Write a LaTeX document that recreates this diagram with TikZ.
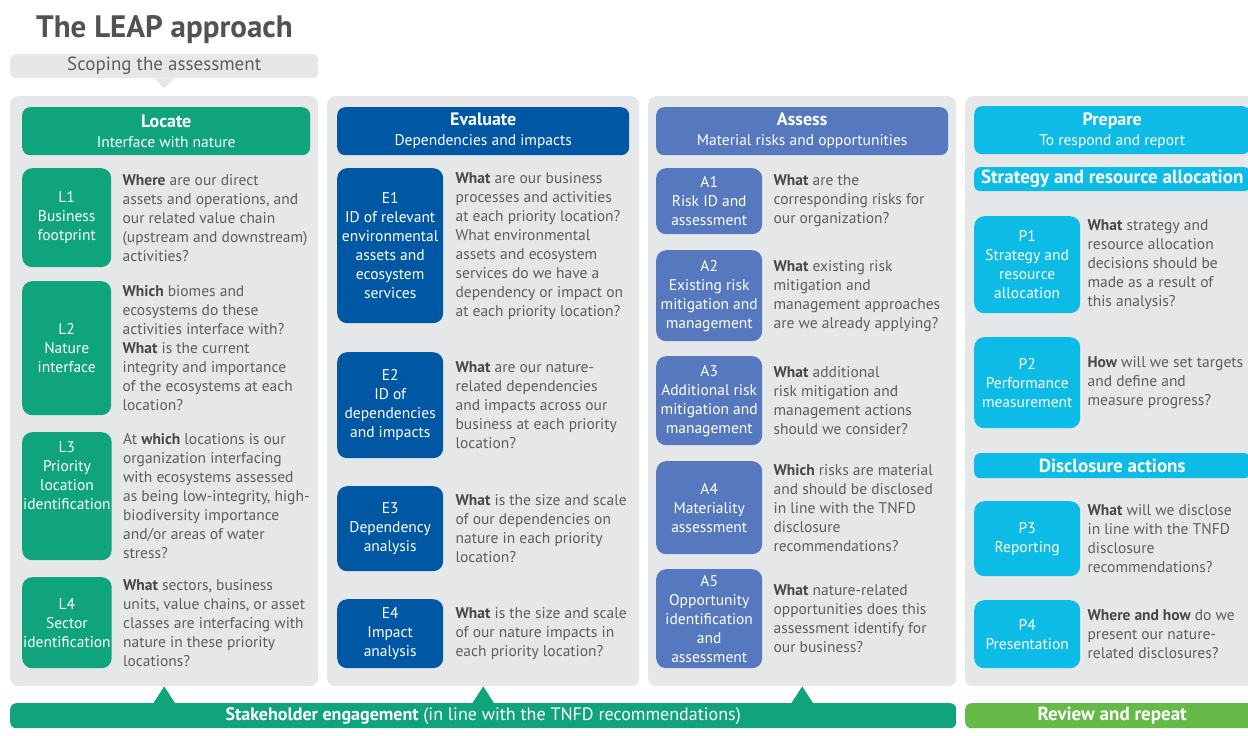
\documentclass[tikz,border=0pt]{standalone}
\usepackage{fontspec}
\setmainfont{PT Sans}
\usetikzlibrary{positioning}
\definecolor{panelgray}{RGB}{230,231,233}
\definecolor{textgray}{RGB}{92,93,96}
\definecolor{boldgray}{RGB}{72,72,74}
\definecolor{titlegray}{RGB}{82,82,84}
\definecolor{leapgreen}{RGB}{16,164,125}
\definecolor{leapblue}{RGB}{0,88,164}
\definecolor{leapslate}{RGB}{86,120,190}
\definecolor{leapcyan}{RGB}{13,188,230}
\definecolor{leaplime}{RGB}{101,186,72}
\newcommand{\kw}[1]{\textbf{\color{boldgray}#1}}
\newcommand{\leapitem}[7]{
    % #1: name
    % #2: box style
    % #3: x of left edge
    % #4: y of top edge
    % #5: y of bottom edge
    % #6: label
    % #7: question
    \node[#2, minimum height={(#5-#4)*1pt}] (#1) at (#3,#4) {#6};
    \node[question, right=of #1] (#1q) {#7};
}

\begin{document}
\begin{tikzpicture}[x=1pt, y=-1pt]
    % grey columns
    \tikzstyle{panel}=[fill=panelgray, rounded corners=8pt, anchor=north west, inner sep=0, minimum width=308pt, minimum height=590pt]
    % coloured headers
    \tikzstyle{head}=[rounded corners=8pt, anchor=north west, text=white, align=center, inner sep=0, minimum height=48pt, font=\fontsize{15.5}{20}\selectfont]
    \tikzstyle{subhead}=[head, minimum width=276pt, minimum height=24pt, rounded corners=6pt, font=\fontsize{19}{20}\selectfont\bfseries]
    % step boxes
    \tikzstyle{card}=[rounded corners=10pt, anchor=north west, text=white, align=center, inner xsep=1pt, font=\fontsize{15.5}{19}\selectfont]
    \tikzstyle{locbox}=[card, fill=leapgreen, minimum width=89pt]
    \tikzstyle{evabox}=[card, fill=leapblue, minimum width=106pt]
    \tikzstyle{assbox}=[card, fill=leapslate, minimum width=106pt]
    \tikzstyle{prebox}=[card, fill=leapcyan, minimum width=106pt]
    \tikzstyle{question}=[anchor=west, align=left, inner sep=0, text=textgray, font=\fontsize{15.5}{19}\selectfont]
    \tikzstyle{bar}=[rounded corners=6pt, anchor=north west, text=white, inner sep=0, minimum height=25pt, font=\fontsize{18}{20}\selectfont]
    \clip (0,0) rectangle (1248,736);
    \fill[white] (0,0) rectangle (1248,736);
    \node[anchor=base west, inner sep=0, text=titlegray, font=\fontsize{31}{36}\selectfont\bfseries] (title) at (36,37) {The LEAP approach};
    \node[anchor=north west, fill=panelgray, rounded corners=6pt, minimum width=308pt, minimum height=24pt, inner sep=0, text=textgray, font=\fontsize{19}{20}\selectfont] (scoping) at (10,54) {Scoping the assessment};
    \fill[panelgray] ([xshift=-10pt]scoping.south) -- ++(10,10) -- ++(10,-10) -- cycle;
    \node[panel] (locpanel) at (10,96) {};
    \node[panel, minimum width=312pt] (evapanel) at (327,96) {};
    \node[panel] (asspanel) at (648,96) {};
    \node[panel, minimum width=300pt] (prepanel) at (965,96) {};
    % Locate
    \begin{scope}[node distance=11pt]
        \node[head, fill=leapgreen, minimum width=288pt] (locate) at (22,107) {{\fontsize{18}{20}\selectfont\bfseries Locate}\\Interface with nature};
        \leapitem{L1}{locbox}{22}{168}{267}{L1\\Business\\footprint}{\kw{Where} are our direct\\assets and operations, and\\our related value chain\\(upstream and downstream)\\activities?}
        \leapitem{L2}{locbox}{22}{281}{415}{L2\\Nature\\interface}{\kw{Which} biomes and\\ecosystems do these\\activities interface with?\\\kw{What} is the current\\integrity and importance\\of the ecosystems at each\\location?}
        \leapitem{L3}{locbox}{22}{432}{560}{L3\\Priority\\location\\identification\\[23pt]\mbox{}}{At \kw{which} locations is our\\organization interfacing\\with ecosystems assessed\\as being low-integrity, high-\\biodiversity importance\\and/or areas of water\\stress?}
        \leapitem{L4}{locbox}{22}{577}{668}{L4\\Sector\\identification}{\kw{What} sectors, business\\units, value chains, or asset\\classes are interfacing with\\nature in these priority\\locations?}
    \end{scope}
    % Evaluate
    \begin{scope}[node distance=12pt]
        \node[head, fill=leapblue, minimum width=292pt] (evaluate) at (337,107) {{\fontsize{18}{20}\selectfont\bfseries Evaluate}\\Dependencies and impacts};
        \leapitem{E1}{evabox}{337}{168}{323}{E1\\ID of relevant\\environmental\\assets and\\ecosystem\\services}{\kw{What} are our business\\processes and activities\\at each priority location?\\What environmental\\assets and ecosystem\\services do we have a\\dependency or impact on\\at each priority location?}
        \leapitem{E2}{evabox}{337}{352}{458}{E2\\ID of\\dependencies\\and impacts}{\kw{What} are our nature-\\related dependencies\\and impacts across our\\business at each priority\\location?}
        \leapitem{E3}{evabox}{337}{486}{571}{E3\\Dependency\\analysis}{\kw{What} is the size and scale\\of our dependencies on\\nature in each priority\\location?}
        \leapitem{E4}{evabox}{337}{599}{668}{E4\\Impact\\analysis}{\kw{What} is the size and scale\\of our nature impacts in\\each priority location?}
    \end{scope}
    % Assess
    \begin{scope}[node distance=11pt]
        \node[head, fill=leapslate, minimum width=292pt] (assess) at (656,107) {{\fontsize{18}{20}\selectfont\bfseries Assess}\\Material risks and opportunities};
        \leapitem{A1}{assbox}{656}{168}{234}{A1\\Risk ID and\\assessment}{\kw{What} are the\\corresponding risks for\\our organization?}
        \leapitem{A2}{assbox}{656}{250}{341}{A2\\Existing risk\\mitigation and\\management}{\kw{What} existing risk\\mitigation and\\management approaches\\are we already applying?}
        \leapitem{A3}{assbox}{656}{356}{445}{A3\\Additional risk\\mitigation and\\management}{\kw{What} additional\\risk mitigation and\\management actions\\should we consider?}
        \leapitem{A4}{assbox}{656}{461}{554}{A4\\Materiality\\assessment}{\kw{Which} risks are material\\and should be disclosed\\in line with the TNFD\\disclosure\\recommendations?}
        \leapitem{A5}{assbox}{656}{569}{668}{A5\\Opportunity\\identification\\and\\assessment}{\kw{What} nature-related\\opportunities does this\\assessment identify for\\our business?}
    \end{scope}
    % Prepare
    \begin{scope}[node distance=7pt]
        \node[head, fill=leapcyan, minimum width=276pt] (prepare) at (974,106) {{\fontsize{18}{20}\selectfont\bfseries Prepare}\\To respond and report};
        \node[subhead, fill=leapcyan] (strategy) at (974,167) {Strategy and resource allocation};
        \node[subhead, fill=leapcyan, minimum height=25pt] (disclosure) at (974,453) {Disclosure actions};
        \leapitem{P1}{prebox}{974}{216}{313}{P1\\Strategy and\\resource\\allocation}{\kw{What} strategy and\\resource allocation\\decisions should be\\made as a result of\\this analysis?}
        \leapitem{P2}{prebox}{974}{337}{428}{P2\\Performance\\measurement}{\kw{How} will we set targets\\and define and\\measure progress?}
        \leapitem{P3}{prebox}{974}{501}{576}{P3\\Reporting}{\kw{What} will we disclose\\in line with the TNFD\\disclosure\\recommendations?}
        \leapitem{P4}{prebox}{974}{600}{668}{P4\\Presentation}{\kw{Where and how} do we\\present our nature-\\related disclosures?}
    \end{scope}
    % bottom bars
    \node[bar, fill=leapgreen, minimum width=946pt] (engage) at (10,703) {\textbf{Stakeholder engagement} (in line with the TNFD recommendations)};
    \node[bar, fill=leaplime, minimum width=294pt, font=\fontsize{19}{20}\selectfont\bfseries] (review) at (965,703) {Review and repeat};
    \foreach \p in {locpanel, evapanel, asspanel}
        \fill[leapgreen] (\p.south) -- ++(11,17) -- ++(-22,0) -- cycle;
\end{tikzpicture}
\end{document}
